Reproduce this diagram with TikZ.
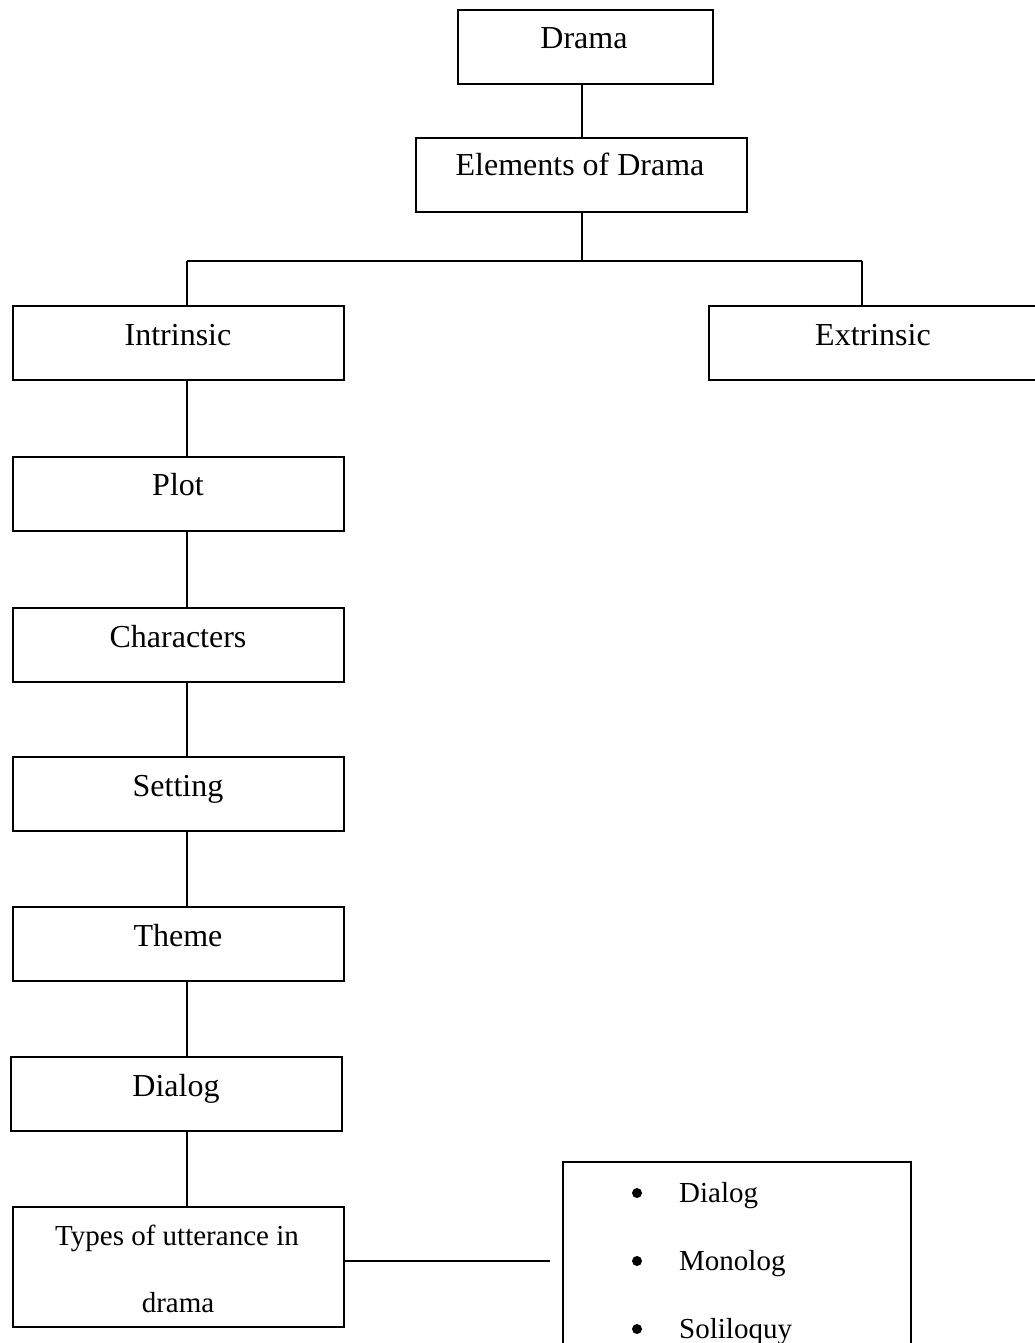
\documentclass[tikz,border=0pt]{standalone}
\usepackage{fontspec}
\setmainfont{Liberation Serif}
\begin{document}
\begin{tikzpicture}[x=1pt,y=-1pt,
  box/.style={draw, line width=1.6pt, inner sep=0pt, anchor=north west, minimum height=74pt},
  lbl/.style={anchor=base, inner sep=0pt, font=\fontsize{32}{38}\selectfont},
  slbl/.style={anchor=base, inner sep=0pt, font=\fontsize{29}{35}\selectfont},
  dot/.style={circle, fill=black, inner sep=0pt, minimum size=10pt},
  conn/.style={line width=1.5pt}]
\useasboundingbox (0,0) rectangle (1034,1343);
% boxes
\node[box, minimum width=255pt] (drama) at (457,9) {};
\node[box, minimum width=331pt] (elem) at (415,137) {};
\node[box, minimum width=331pt] (intr) at (12,305) {};
\node[box, minimum width=332pt] (extr) at (708,305) {};
\node[box, minimum width=331pt] (plot) at (12,456) {};
\node[box, minimum width=331pt] (char) at (12,607) {};
\node[box, minimum width=331pt] (sett) at (12,756) {};
\node[box, minimum width=331pt] (theme) at (12,906) {};
\node[box, minimum width=331pt] (dial) at (10,1056) {};
\node[box, minimum width=331pt, minimum height=120pt] (types) at (12,1206) {};
\node[box, minimum width=348pt, minimum height=210pt] (list) at (562,1161) {};
% labels
\node[lbl] (tdrama) at (584,49) {Drama};
\node[lbl] (telem) at (580,176) {Elements of Drama};
\node[lbl] (tintr) at (178,345) {Intrinsic};
\node[lbl] (textr) at (873,345) {Extrinsic};
\node[lbl] (tplot) at (178,495) {Plot};
\node[lbl] (tchar) at (178,647) {Characters};
\node[lbl] (tsett) at (178,796) {Setting};
\node[lbl] (ttheme) at (178,946) {Theme};
\node[lbl] (tdial) at (176,1096) {Dialog};
\node[slbl] (ttypes1) at (177,1245) {Types of utterance in};
\node[slbl] (ttypes2) at (178,1312) {drama};
\node[dot] (b1) at (637,1193) {};
\node[dot] (b2) at (637,1261) {};
\node[dot] (b3) at (637,1329) {};
\node[slbl, anchor=base west] (l1) at (679,1202) {Dialog};
\node[slbl, anchor=base west] (l2) at (679,1270) {Monolog};
\node[slbl, anchor=base west] (l3) at (679,1338) {Soliloquy};
% connectors
\coordinate (stem) at (582,261);
\coordinate (barL) at (187,261);
\coordinate (barR) at (862,261);
\coordinate (rend) at (550,1261);
\draw[conn] (drama.south -| stem) -- (elem.north -| stem);
\draw[conn] (elem.south -| stem) -- (stem);
\draw[conn] (barL) -- (barR);
\draw[conn] (barL) -- (intr.north -| barL);
\draw[conn] (barR) -- (extr.north -| barR);
\draw[conn] (intr.south -| barL) -- (plot.north -| barL);
\draw[conn] (plot.south -| barL) -- (char.north -| barL);
\draw[conn] (char.south -| barL) -- (sett.north -| barL);
\draw[conn] (sett.south -| barL) -- (theme.north -| barL);
\draw[conn] (theme.south -| barL) -- (dial.north -| barL);
\draw[conn] (dial.south -| barL) -- (types.north -| barL);
\draw[conn] (types.east |- rend) -- (rend);
\end{tikzpicture}
\end{document}
